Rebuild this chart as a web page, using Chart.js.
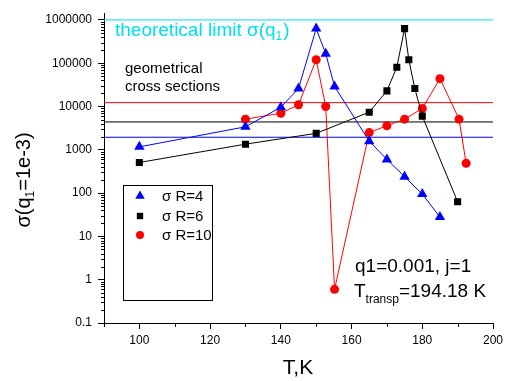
<!DOCTYPE html>
<html>
<head>
<meta charset="utf-8">
<script src="https://cdn.jsdelivr.net/npm/chart.js@4/dist/chart.umd.min.js"></script>
<style>
html,body{margin:0;padding:0;background:#fff;}
#wrap{width:510px;height:381px;position:relative;}
</style>
</head>
<body>
<div id="wrap"><canvas id="c" width="510" height="381"></canvas></div>
<script>
// ---- data ----
const tempR4 = [100, 130, 140, 145, 150, 152.7, 155.2, 165, 170, 175, 180, 185];
const sigmaR4 = [1170, 3400, 9600, 26000, 630000, 166000, 29000, 1580, 600, 240, 95, 28];
const tempR6 = [100, 130, 150, 165, 170, 172.8, 175, 176.2, 177.9, 180, 190];
const sigmaR6 = [510, 1350, 2400, 7400, 23000, 81000, 630000, 120000, 26000, 6000, 63];
const tempR10 = [130, 140, 145, 150, 152.7, 155.2, 165, 170, 175, 180, 185, 190.4, 192.4];
const sigmaR10 = [5100, 7000, 11000, 120000, 10000, 0.6, 2500, 3600, 5100, 9000, 44000, 5100, 490];
const seriesLabels = ['\u03c3 R=4', '\u03c3 R=6', '\u03c3 R=10'];
const limitRange = [90, 200];
const theoreticalLimit = 1000000;
const geomR4 = 1950;
const geomR6 = 4400;
const geomR10 = 12300;
const xTickLabels = [100, 120, 140, 160, 180, 200];
const yTickLabels = [0.1, 1, 10, 100, 1000, 10000, 100000, 1000000];

const FONT = '"Liberation Sans", Arial, sans-serif';
const CYAN = '#00dfef';

function pts(xs, ys){ return xs.map((x,i)=>({x:x, y:ys[i]})); }
function hline(v){ return limitRange.map(x=>({x:x, y:v})); }

const lineDs = (data, color) => ({
  data: data, borderColor: color, borderWidth: 1, pointRadius: 0,
  showLine: true, fill: false, order: 5
});

const datasets = [
  Object.assign(lineDs(hline(theoreticalLimit), CYAN), {label:'limit'}),
  Object.assign(lineDs(hline(geomR10), '#ff0000'), {label:'g10'}),
  Object.assign(lineDs(hline(geomR6), '#000000'), {label:'g6'}),
  Object.assign(lineDs(hline(geomR4), '#0000ff'), {label:'g4'}),
  { label: seriesLabels[0], data: pts(tempR4, sigmaR4), showLine: true, borderColor:'#0000ff', backgroundColor:'#0000ff',
    borderWidth: 1, pointStyle:'triangle', pointRadius: 6, pointBorderWidth: 0, order: 1 },
  { label: seriesLabels[1], data: pts(tempR6, sigmaR6), showLine: true, borderColor:'#000000', backgroundColor:'#000000',
    borderWidth: 1, pointStyle:'rect', pointRadius: 5, pointBorderWidth: 0, order: 2 },
  { label: seriesLabels[2], data: pts(tempR10, sigmaR10), showLine: true, borderColor:'#ff0000', backgroundColor:'#ff0000',
    borderWidth: 1, pointStyle:'circle', pointRadius: 4.5, pointBorderWidth: 0, order: 3 }
];

function isPow10(v){ const l = Math.log10(v); return Math.abs(l - Math.round(l)) < 1e-9; }

const annot = {
  id: 'annot',
  afterDraw(chart){
    const ctx = chart.ctx;
    const ys = chart.scales.y, xs = chart.scales.x;
    const left = chart.chartArea.left, bottom = chart.chartArea.bottom;
    ctx.save();
    // minor y ticks
    ctx.strokeStyle = '#000'; ctx.lineWidth = 1;
    ys.ticks.forEach(t => {
      if (!isPow10(t.value)) {
        const p = Math.round(ys.getPixelForValue(t.value)) + 0.5;
        ctx.beginPath(); ctx.moveTo(left - 3, p); ctx.lineTo(left, p); ctx.stroke();
      }
    });
    // minor x ticks
    xs.ticks.forEach(t => {
      if (t.value % 20 !== 0) {
        const p = Math.round(xs.getPixelForValue(t.value)) + 0.5;
        ctx.beginPath(); ctx.moveTo(p, bottom); ctx.lineTo(p, bottom + 4); ctx.stroke();
      }
    });

    // cyan label
    ctx.fillStyle = CYAN; ctx.textBaseline = 'alphabetic'; ctx.textAlign = 'left';
    ctx.font = '19px ' + FONT;
    let t1 = 'theoretical limit \u03c3(q';
    ctx.fillText(t1, 115, 36);
    let w = ctx.measureText(t1).width;
    ctx.font = '12px ' + FONT;
    ctx.fillText('1', 115 + w, 40);
    let w2 = ctx.measureText('1').width;
    ctx.font = '19px ' + FONT;
    ctx.fillText(')', 115 + w + w2 + 1, 36);

    // geometrical
    ctx.fillStyle = '#000';
    ctx.font = '15px ' + FONT;
    ctx.fillText('geometrical', 125, 73);
    ctx.fillText('cross sections', 125, 91);

    // q1 text
    ctx.font = '19px ' + FONT;
    ctx.fillText('q1=0.001, j=1', 355, 272);
    ctx.fillText('T', 354, 297);
    let wT = ctx.measureText('T').width;
    ctx.font = '12px ' + FONT;
    ctx.fillText('transp', 354 + wT, 303);
    let wS = ctx.measureText('transp').width;
    ctx.font = '19px ' + FONT;
    ctx.fillText('=194.18 K', 354 + wT + wS, 297);

    // x title
    ctx.font = '21px ' + FONT; ctx.textAlign = 'center';
    ctx.fillText('T,K', 298, 374);

    // y title (rotated)
    ctx.save();
    ctx.translate(30, 180);
    ctx.rotate(-Math.PI/2);
    ctx.textAlign = 'left';
    ctx.font = '20px ' + FONT;
    const a = '\u03c3(q', b = '1', c = '=1e-3)';
    const wa = ctx.measureText(a).width, wc = ctx.measureText(c).width;
    ctx.font = '12px ' + FONT;
    const wb = ctx.measureText(b).width;
    const tot = wa + wb + wc;
    let x0 = -tot/2;
    ctx.font = '20px ' + FONT;
    ctx.fillText(a, x0, 0);
    ctx.font = '12px ' + FONT;
    ctx.fillText(b, x0 + wa, 4);
    ctx.font = '20px ' + FONT;
    ctx.fillText(c, x0 + wa + wb, 0);
    ctx.restore();

    // legend box
    ctx.fillStyle = '#fff';
    ctx.fillRect(123.5, 185.5, 89, 115);
    ctx.strokeStyle = '#000'; ctx.lineWidth = 1;
    ctx.strokeRect(123.5, 185.5, 89, 115);
    const rows = [196, 216, 235];
    [4,5,6].forEach((di, k) => {
      const ds = chart.data.datasets[di];
      ctx.fillStyle = ds.backgroundColor; ctx.strokeStyle = ds.backgroundColor;
      Chart.helpers.drawPoint(ctx, {pointStyle: ds.pointStyle, radius: ds.pointRadius - 0.5, borderWidth: 0, rotation: 0}, 140, rows[k]);
      ctx.fillStyle = '#000';
      ctx.textAlign = 'left'; ctx.textBaseline = 'middle';
      ctx.font = '15px ' + FONT;
      ctx.fillText(ds.label, 162, rows[k] + 1);
    });
    ctx.restore();
  }
};

new Chart(document.getElementById('c'), {
  type: 'scatter',
  data: { datasets: datasets },
  options: {
    responsive: false,
    animation: false,
    layout: { padding: { top: 2, right: 17, left: 0, bottom: 0 } },
    plugins: { legend: { display: false }, tooltip: { enabled: false } },
    scales: {
      x: {
        type: 'linear', min: 90, max: 200,
        afterFit: s => { s.height = 58; },
        border: { display: true, color: '#000', width: 1 },
        grid: { drawOnChartArea: false, drawTicks: true, tickLength: 6,
                tickColor: c => (c.tick && c.tick.value % 20 === 0) ? '#000' : 'rgba(0,0,0,0)' },
        ticks: { stepSize: 10, autoSkip: false, maxRotation: 0, padding: 4, color: '#000',
                 font: { family: FONT, size: 12 },
                 callback: v => xTickLabels.includes(v) ? String(v) : '' }
      },
      y: {
        type: 'logarithmic', min: 0.1, max: 1430000,
        afterFit: s => { s.width = 104; },
        afterBuildTicks: s => {
          const t = [];
          for (let e = -1; e <= 6; e++) {
            for (let m = 1; m <= 9; m++) {
              const v = parseFloat((m * Math.pow(10, e)).toPrecision(6));
              if (v >= 0.1 && v <= 1430000) t.push({ value: v });
            }
          }
          s.ticks = t;
        },
        border: { display: true, color: '#000', width: 1 },
        grid: { drawOnChartArea: false, drawTicks: true, tickLength: 6,
                tickColor: c => (c.tick && isPow10(c.tick.value)) ? '#000' : 'rgba(0,0,0,0)' },
        ticks: { autoSkip: false, padding: 6, color: '#000',
                 font: { family: FONT, size: 12 },
                 callback: v => {
                   const f = yTickLabels.find(l => Math.abs(l - v) / l < 1e-6);
                   return f !== undefined ? String(f) : '';
                 } }
      }
    }
  },
  plugins: [annot]
});
</script>
</body>
</html>
